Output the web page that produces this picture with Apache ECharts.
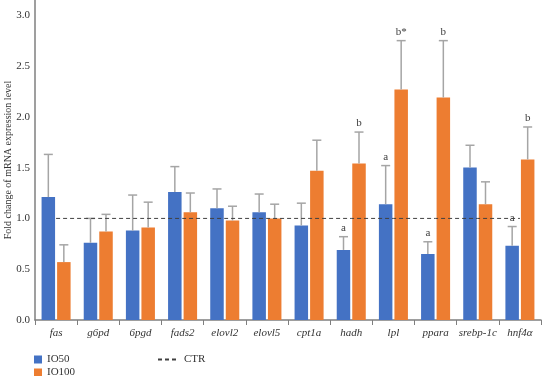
<!DOCTYPE html>
<html>
<head>
<meta charset="utf-8">
<script src="https://cdn.jsdelivr.net/npm/echarts@6/dist/echarts.min.js"></script>
<style>
  html, body { margin: 0; padding: 0; background: #fff; }
  #chart { width: 543px; height: 376px; }
</style>
</head>
<body>
<div id="chart"></div>
<script>
// 基因类别
const categories = ['fas', 'g6pd', '6pgd', 'fads2', 'elovl2', 'elovl5', 'cpt1a', 'hadh', 'lpl', 'ppara', 'srebp-1c', 'hnf4α']
// IO50 组均值与误差
const io50 = [1.21, 0.76, 0.88, 1.26, 1.10, 1.06, 0.93, 0.69, 1.14, 0.65, 1.50, 0.73]
const io50Err = [0.42, 0.24, 0.35, 0.25, 0.19, 0.18, 0.22, 0.13, 0.38, 0.12, 0.22, 0.19]
const io50Sig = ['', '', '', '', '', '', '', 'a', 'a', 'a', '', 'a']
// IO100 组均值与误差
const io100 = [0.57, 0.87, 0.91, 1.06, 0.98, 1.00, 1.47, 1.54, 2.27, 2.19, 1.14, 1.58]
const io100Err = [0.17, 0.17, 0.25, 0.19, 0.14, 0.14, 0.30, 0.31, 0.48, 0.56, 0.22, 0.32]
const io100Sig = ['', '', '', '', '', '', '', 'b', 'b*', 'b', '', 'b']
// 对照线
const ctr = [1, 1, 1, 1, 1, 1, 1, 1, 1, 1, 1, 1]
const yTicks = [0, 0.5, 1.0, 1.5, 2.0, 2.5, 3.0]

const FONT = 'Liberation Serif'
const BAR_W = 13.5
const BAR_OFF = 7.75

// 误差线（只画上半部分）+ 显著性字母
const errSeries = (vals, errs, sig, offset) => ({
  type: 'custom',
  silent: true,
  z: 5,
  data: vals.map((v, i) => [i, v, errs[i]]),
  renderItem: (params, api) => {
    const i = api.value(0)
    const v = api.value(1)
    const e = api.value(2)
    const base = api.coord([i, v])
    const top = api.coord([i, v + e])
    const x = base[0] + offset
    const style = { stroke: '#a5a5a5', lineWidth: 1.5 }
    const children = [
      { type: 'line', shape: { x1: x, y1: base[1], x2: x, y2: top[1] }, style },
      { type: 'line', shape: { x1: x - 4.5, y1: top[1], x2: x + 4.5, y2: top[1] }, style }
    ]
    const txt = sig[params.dataIndex]
    if (txt) {
      children.push({
        type: 'text',
        style: {
          text: txt, x: x, y: top[1] - 3, textAlign: 'center', textVerticalAlign: 'bottom',
          font: '11px "Liberation Serif"', fill: '#404040'
        }
      })
    }
    return { type: 'group', children }
  }
})

const legendText = { fontFamily: FONT, fontSize: 11, color: '#333' }
const squareLegend = (name, top) => ({
  data: [name], left: 34, top, padding: 0,
  itemWidth: 8, itemHeight: 8, icon: 'rect', textStyle: legendText
})

const chart = echarts.init(document.getElementById('chart'))

const option = {
  animation: false,
  textStyle: { fontFamily: FONT },
  legend: [
    squareLegend('IO50', 354),
    squareLegend('IO100', 367),
    {
      data: ['CTR'],
      left: 157, top: 354, padding: 0,
      itemWidth: 21, itemHeight: 8,
      itemStyle: { opacity: 0 },
      textStyle: legendText
    }
  ],
  grid: { left: 35, right: 2, top: 0, bottom: 56, outerBoundsMode: 'none' },
  xAxis: {
    type: 'category',
    data: categories,
    axisLine: { lineStyle: { color: '#7f7f7f', width: 1.5 } },
    axisTick: { show: true, length: 5, lineStyle: { color: '#7f7f7f' } },
    axisLabel: { fontFamily: FONT, fontStyle: 'italic', fontSize: 11, color: '#333', margin: 8, interval: 0 }
  },
  yAxis: {
    type: 'value',
    min: 0,
    max: 3.15,
    interval: 0.5,
    name: 'Fold change of mRNA expression level',
    nameLocation: 'middle',
    nameGap: 27,
    nameMoveOverlap: false,
    nameTextStyle: { fontFamily: FONT, fontSize: 10, color: '#333', verticalAlign: 'middle' },
    axisLine: { show: true, lineStyle: { color: '#7f7f7f', width: 1.5 } },
    axisTick: { show: false },
    splitLine: { show: false },
    axisLabel: {
      fontFamily: FONT, fontSize: 11, color: '#333', margin: 5,
      showMaxLabel: false,
      formatter: v => (yTicks.includes(v) ? v.toFixed(1) : '')
    }
  },
  series: [
    {
      name: 'IO50', type: 'bar', data: io50,
      barWidth: BAR_W, barGap: '15%',
      itemStyle: { color: '#4472c4' }
    },
    {
      name: 'IO100', type: 'bar', data: io100,
      barWidth: BAR_W, barGap: '15%',
      itemStyle: { color: '#ed7d31' }
    },
    {
      name: 'CTR', type: 'line', data: ctr,
      symbol: 'none', z: 6,
      lineStyle: { color: '#404040', width: 1, type: [4, 3] },
      itemStyle: { color: '#404040' }
    },
    errSeries(io50, io50Err, io50Sig, -BAR_OFF),
    errSeries(io100, io100Err, io100Sig, BAR_OFF)
  ]
}

chart.setOption(option)
</script>
</body>
</html>
